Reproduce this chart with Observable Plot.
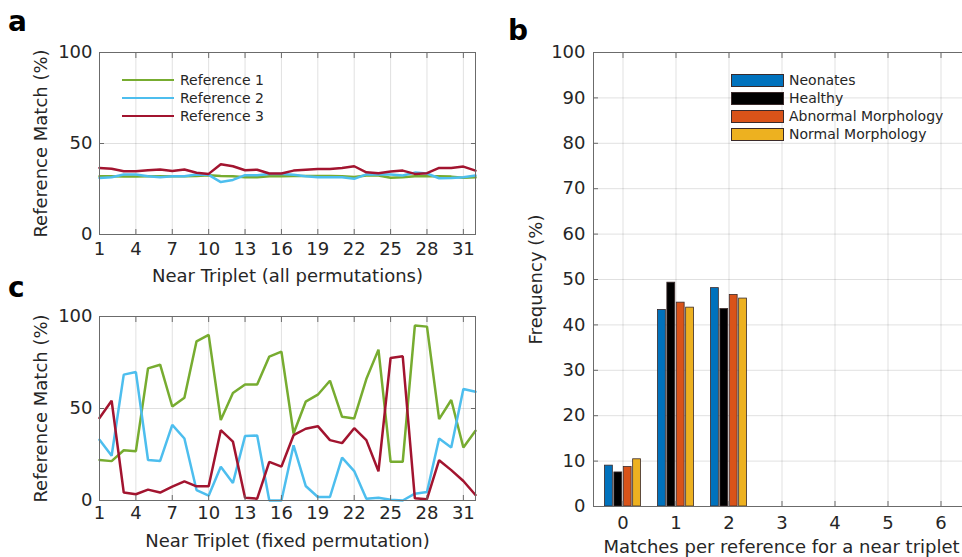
<!DOCTYPE html>
<html><head><meta charset="utf-8">
<script src="https://cdn.jsdelivr.net/npm/d3@7"></script>
<script src="https://cdn.jsdelivr.net/npm/@observablehq/plot@0.6"></script>
<style>
html,body{margin:0;padding:0;background:#fff;overflow:hidden;width:962px;height:557px;}
#root{position:relative;width:962px;height:557px;overflow:hidden;font-family:"DejaVu Sans",sans-serif;color:#262626;}
.panel{position:absolute;}
.panel svg{overflow:visible;max-width:none !important;display:block;}
.letter{position:absolute;font-weight:bold;font-size:28px;line-height:28px;color:#000;}
.legtext{position:absolute;font-size:14px;line-height:16px;white-space:nowrap;color:#262626;}
.legline{position:absolute;height:2.5px;}
.legbox{position:absolute;box-sizing:border-box;border:1px solid #3a2a2a;}
</style></head><body><div id="root"></div>
<script>
// ---------- data ----------
const triplets = [1,2,3,4,5,6,7,8,9,10,11,12,13,14,15,16,17,18,19,20,21,22,23,24,25,26,27,28,29,30,31,32];
const tripletTicks = [1,4,7,10,13,16,19,22,25,28,31];
const matchTicks = [0,50,100];
const refNames = ["Reference 1","Reference 2","Reference 3"];
const refColors = ["#77AC30","#4DBEEE","#A2142F"];

// panel a: all permutations
const allRef1 = [32,32,31.8,31.8,32,32,32,32,32.2,32.5,32.2,32,31.5,31.5,32,32,32.2,32.2,32.2,32.2,32,31.6,32.4,32.4,31.2,31.4,32,32,32,31.8,31.2,31.4];
const allRef2 = [31.1,31.5,33,33,32,31.5,32,32,33,32.8,28.8,30,32.6,32.6,33.2,33.2,32.8,32,31.5,31.5,31.5,30.6,33,33,33,32.4,34,33.5,30.9,31,31.5,32.4];
const allRef3 = [36.6,36.1,34.8,34.8,35.3,35.7,34.9,35.7,33.9,33.3,38.6,37.5,35.3,35.6,33.5,33.5,35.1,35.6,36,36,36.6,37.5,34.2,33.7,34.6,35.1,33.3,33.7,36.6,36.6,37.3,35.1];

// panel c: fixed permutation
const fixRef1 = [22,21.4,27.3,26.8,71.8,73.8,51.1,55.9,86.5,90,43.7,58.4,63.1,63.1,78.2,80.9,36.4,53.7,57.5,65.1,45.5,44.6,66,82,21,21,95.1,94.5,44.2,54.6,28.8,37.9];
const fixRef2 = [33,24.3,68.4,69.8,22,21.5,41.1,33.7,5.7,2.6,18.3,9.5,35,35.3,0,0,30,7.9,1.9,1.9,23.3,16,1,1.5,0.4,0,3.7,4.6,33.7,28.8,60.6,59.1];
const fixRef3 = [44.8,54.2,4.3,3.4,5.9,4.3,7.5,10.4,7.7,7.7,38.2,32,1.5,1,21,18.4,35.5,39,40.4,32.8,31.2,39.3,32.8,15.9,77.5,78.4,1.2,0.7,21.9,16.5,10.6,3];

// panel b: frequency of matches per reference
const matchCounts = [0,1,2,3,4,5,6];
const freqTicks = [0,10,20,30,40,50,60,70,80,90,100];
const groupNames = ["Neonates","Healthy","Abnormal Morphology","Normal Morphology"];
const groupColors = ["#0072BD","#000000","#D95319","#EDB120"];
const neonatesFreq = [9.0,43.3,48.1,0,0,0,0];
const healthyFreq = [7.5,49.3,43.5,0,0,0,0];
const abnormalFreq = [8.7,44.9,46.6,0,0,0,0];
const normalFreq = [10.4,43.8,45.8,0,0,0,0];

// ---------- helpers ----------
const root = document.getElementById("root");
const gridStyle = {stroke:"#000", strokeOpacity:0.12, strokeWidth:1};
const frameStroke = "#6b6b6b";
const baseStyle = {fontFamily:"DejaVu Sans, sans-serif", fontSize:"18px", color:"#262626", background:"transparent", overflow:"visible"};

function place(el, left, top, w, h) {
  const wrap = document.createElement("div");
  wrap.className = "panel";
  wrap.style.left = left + "px";
  wrap.style.top = top + "px";
  wrap.style.width = w + "px";
  wrap.style.height = h + "px";
  wrap.appendChild(el);
  root.appendChild(wrap);
}
function addDiv(cls, left, top, text, extra) {
  const d = document.createElement("div");
  d.className = cls;
  d.style.left = left + "px";
  d.style.top = top + "px";
  if (text) d.textContent = text;
  if (extra) Object.assign(d.style, extra);
  root.appendChild(d);
  return d;
}

function linePanel(series, xLabel, height, marginTop, marginBottom, xPad, xLabelOffset) {
  const data = series.flatMap((vals, s) => vals.map((v, i) => ({x: triplets[i], y: v, ref: refNames[s]})));
  return Plot.plot({
    width: 480, height, marginLeft: 99, marginRight: 5, marginTop, marginBottom,
    style: baseStyle,
    x: {domain: [1, 32]},
    y: {domain: [0, 100]},
    color: {domain: refNames, range: refColors},
    marks: [
      Plot.gridX(tripletTicks, gridStyle),
      Plot.gridY(matchTicks, gridStyle),
      Plot.line(data, {x: "x", y: "y", z: "ref", stroke: "ref", strokeWidth: 2.5, strokeLinejoin: "miter"}),
      Plot.frame({stroke: frameStroke}),
      Plot.axisX(tripletTicks, {anchor: "bottom", tickSize: -5, tickPadding: xPad, stroke: frameStroke, fill: "#262626",
        label: xLabel, labelAnchor: "center", labelOffset: xLabelOffset, labelArrow: "none"}),
      Plot.axisX(tripletTicks, {anchor: "top", tickSize: -5, stroke: frameStroke, tickFormat: () => "", label: null}),
      Plot.axisY(matchTicks, {anchor: "left", tickSize: -5, tickPadding: 12, stroke: frameStroke, fill: "#262626",
        label: "Reference Match (%)", labelAnchor: "center", labelOffset: 65, labelArrow: "none"}),
      Plot.axisY(matchTicks, {anchor: "right", tickSize: -5, stroke: frameStroke, tickFormat: () => "", label: null})
    ]
  });
}

// ---------- panel a ----------
place(linePanel([allRef1, allRef2, allRef3], "Near Triplet (all permutations)", 290, 52, 56, 13, 47), 0, 0, 480, 290);
// ---------- panel c ----------
place(linePanel([fixRef1, fixRef2, fixRef3], "Near Triplet (fixed permutation)", 287, 46, 57, 11, 46), 0, 270, 480, 287);

// ---------- panel b ----------
const freqs = [neonatesFreq, healthyFreq, abnormalFreq, normalFreq];
const barData = groupNames.flatMap((g, gi) => freqs[gi].map((v, i) => ({m: matchCounts[i], v, g})));
const bMarginLeft = 103, bWidth = 480, bMarginRight = 1;
const bw = (bWidth - bMarginLeft - bMarginRight) / matchCounts.length;
const groupFrac = 0.7, slot = groupFrac / groupNames.length, start = (1 - groupFrac) / 2;
const barMarks = groupNames.map((g, gi) => Plot.barY(barData, {
  filter: d => d.g === g && d.v > 0,
  x: "m", y: "v", fill: groupColors[gi], stroke: "#3a2a2a", strokeWidth: 0.8,
  insetLeft: bw * (start + gi * slot) + 0.4,
  insetRight: bw * (1 - start - (gi + 1) * slot) + 0.4
}));
place(Plot.plot({
  width: bWidth, height: 557, marginLeft: bMarginLeft, marginRight: bMarginRight, marginTop: 52, marginBottom: 51,
  style: baseStyle,
  x: {type: "band", domain: matchCounts, padding: 0},
  y: {domain: [0, 100]},
  marks: [
    Plot.gridX(matchCounts, gridStyle),
    Plot.gridY(freqTicks, gridStyle),
    ...barMarks,
    Plot.frame({stroke: frameStroke}),
    Plot.axisX(matchCounts, {anchor: "bottom", tickSize: -5, tickPadding: 15, stroke: frameStroke, fill: "#262626",
      label: "Matches per reference for a near triplet", labelAnchor: "center", labelOffset: 46, labelArrow: "none"}),
    Plot.axisX(matchCounts, {anchor: "top", tickSize: -5, stroke: frameStroke, tickFormat: () => "", label: null}),
    Plot.axisY(freqTicks, {anchor: "left", tickSize: -5, tickPadding: 13, stroke: frameStroke, fill: "#262626",
      label: "Frequency (%)", labelAnchor: "center", labelOffset: 64, labelArrow: "none"})
  ]
}), 490, 0, 480, 557);

// ---------- legends ----------
const legAY = [80, 98, 116];
refNames.forEach((n, i) => {
  addDiv("legline", 122, legAY[i] - 1.25, "", {width: "52px", background: refColors[i]});
  addDiv("legtext", 180, legAY[i] - 8, n);
});
const legBY = [73.5, 91.5, 109.5, 127.5];
groupNames.forEach((n, i) => {
  addDiv("legbox", 731, legBY[i], "", {width: "53px", height: "13px", background: groupColors[i]});
  addDiv("legtext", 789, legBY[i] - 1.5, n);
});

// ---------- panel letters ----------
addDiv("letter", 8, 8, "a");
addDiv("letter", 508, 17, "b");
addDiv("letter", 8, 274, "c");
</script></body></html>
